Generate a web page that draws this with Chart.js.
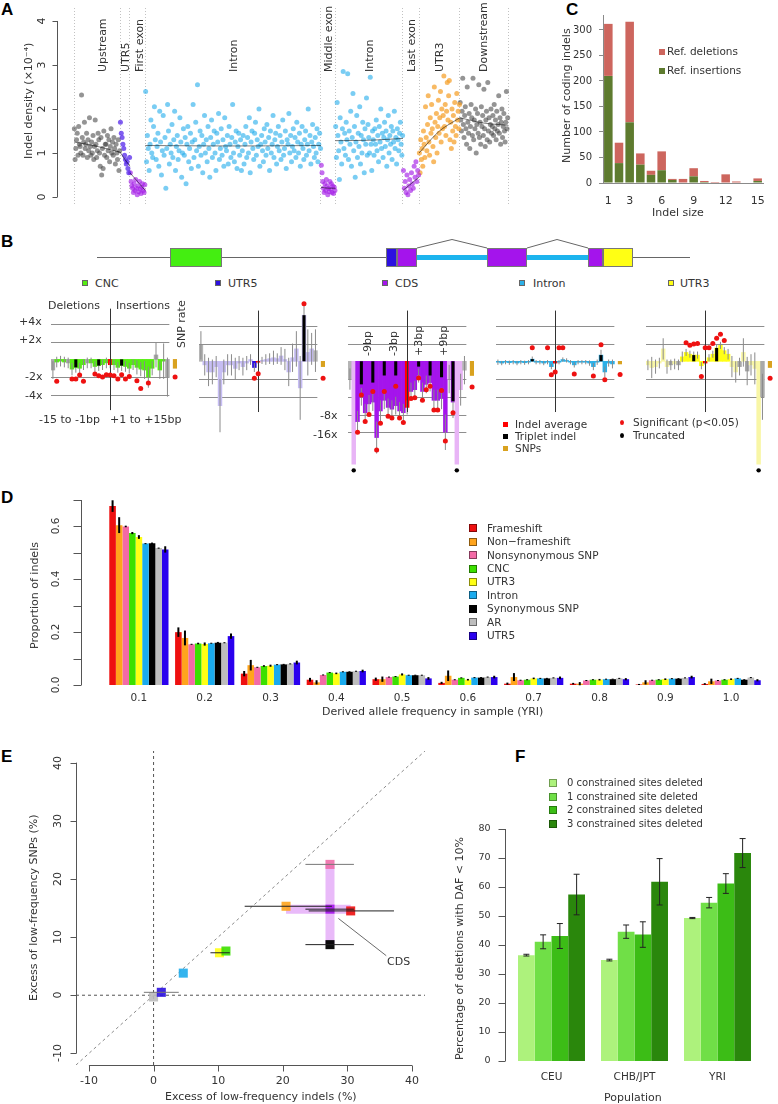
<!DOCTYPE html>
<html>
<head>
<meta charset="utf-8">
<title>Indel figure</title>
<script src="https://cdn.jsdelivr.net/npm/chart.js@4.4.1/dist/chart.umd.min.js"></script>
<style>
  body { margin: 0; background: #fff; }
  #fig { position: relative; width: 778px; height: 1104px; overflow: hidden; font-family: "DejaVu Sans", sans-serif; color: #333; }
  #fig canvas { position: absolute; }
  .t { position: absolute; white-space: nowrap; line-height: 1; }
  .sw { position: absolute; box-sizing: border-box; }
</style>
</head>
<body>
<div id="fig"></div>
<script>
// ---------- A: indel density along the gene model (x10^-4) ----------
const regionNames = ['Upstream', 'UTR5', 'First exon', 'Intron', 'Middle exon', 'Intron', 'Last exon', 'UTR3', 'Downstream'];
const regionBounds = [0, 10.6, 12.9, 16.4, 56.9, 60.2, 75.8, 79.5, 88.9, 100];
const upstreamDensity = [1.55,0.85,1.1,1.3,1.45,0.95,1.6,1.2,1.15,1.0,2.32,1.35,0.95,1.25,1.7,1.1,1.2,1.45,0.9,1.3,1.05,1.8,1.15,0.95,1.25,1.0,1.4,0.85,1.15,1.75,1.2,0.9,1.05,1.45,1.3,1.0,0.7,1.35,0.5,1.1,0.65,1.5,0.95,1.2,1.2,0.9,1.4,1.05,1.3,0.8,1.15,1.55,1.0,1.25,0.95,1.35,1.1,0.75,1.2,1.0,0.85,1.3,0.6,1.05];
const utr5Density = [1.7,1.45,1.35,1.2,1.1,0.95,0.85,0.75,0.8,0.65,0.55,0.9];
const firstExonDensity = [0.55,0.35,0.25,0.2,0.1,0.3,0.15,0.4,0.2,0.05,0.25,0.12,0.35,0.18,0.08,0.22,0.3,0.15,0.1,0.28];
const intron1Density = [2.4,0.8,1.4,1.1,0.6,1.2,1.75,1.0,0.9,1.6,2.05,1.3,0.85,1.15,1.45,0.7,1.95,1.25,0.5,1.05,1.85,0.95,1.35,0.2,1.1,2.1,1.5,0.75,1.2,1.0,1.65,0.9,1.3,1.95,0.6,1.15,1.4,0.85,1.05,1.8,1.25,0.45,1.0,1.55,0.95,1.35,0.3,1.2,1.6,0.8,1.1,1.45,0.65,1.25,2.1,0.9,1.3,1.7,1.05,2.55,0.7,1.15,1.5,0.95,1.4,0.55,1.2,1.85,1.0,1.3,0.8,1.6,1.1,0.45,1.35,1.75,0.9,1.2,1.5,1.0,0.6,1.45,1.25,1.9,0.85,1.1,1.55,0.95,1.3,0.7,1.8,1.15,1.05,1.4,0.75,1.6,1.2,0.9,1.35,2.1,1.0,0.8,1.25,1.5,0.65,1.15,1.45,0.95,1.3,0.6,1.05,1.4,0.75,1.2,1.6,0.9,1.35,1.0,1.8,0.55,1.25,1.5,1.1,0.85,1.45,1.7,0.95,1.3,1.15,2.0,0.7,1.2,1.4,1.05,0.8,1.55,1.25,0.95,1.65,1.1,1.35,0.6,1.5,1.0,1.2,1.85,0.9,1.3,1.45,0.75,1.15,1.6,1.05,1.4,0.85,1.25,1.75,0.95,1.1,1.5,0.65,1.3,1.2,1.9,1.0,1.4,0.8,1.15,1.55,1.05,1.35,0.9,1.7,1.25,1.0,1.45,0.7,1.2,1.6,1.1,0.85,1.3,1.5,0.95,1.2,2.0,1.05,1.4,0.75,1.25,1.65,1.15,0.9,1.35,1.0,1.55,0.8,1.2,1.45,1.1];
const middleExonDensity = [0.72,0.55,0.35,0.2,0.1,0.3,0.15,0.4,0.25,0.05,0.2,0.12,0.35,0.18,0.3,0.1,0.25,0.08,0.22,0.15];
const intron2Density = [1.6,0.9,2.15,1.4,1.05,0.4,1.8,1.25,0.75,1.55,2.85,1.1,1.45,0.95,1.7,1.3,2.8,0.85,1.5,1.2,1.95,0.7,1.35,2.35,1.05,1.6,0.45,1.25,1.85,0.9,1.45,1.15,2.05,0.75,1.4,1.0,1.7,1.3,0.55,1.55,1.2,2.25,0.95,1.65,1.35,1.0,2.72,1.2,0.6,1.5,1.3,0.95,1.55,1.2,1.75,1.05,1.4,0.8,1.6,1.25,2.0,1.1,1.45,0.9,1.35,1.7,1.15,1.5,0.7,1.3,1.85,1.0,1.4,1.2,1.6,0.85,1.5,1.25,1.95,1.1,1.35,0.75,1.55,1.3,1.05,1.45,1.7,1.2,0.95,1.4];
const lastExonDensity = [0.6,0.2,0.35,0.1,0.5,0.05,0.25,0.4,0.15,0.55,0.3,0.2,0.7,0.45,0.8,0.35,0.6,0.5];
const utr3Density = [1.0,0.55,1.3,0.85,1.1,0.7,1.5,1.2,0.9,2.05,1.35,1.05,1.65,2.3,1.25,0.95,1.8,1.45,2.1,1.55,1.15,0.8,2.5,1.7,1.35,1.9,1.0,1.6,2.2,1.45,1.8,2.4,1.25,2.0,1.55,1.85,2.75,1.6,2.1,1.4,1.95,2.6,1.75,2.3,2.65,1.3,1.7,1.1,2.0,1.5,1.85,1.25,2.15,1.6,1.4,2.35,1.75,1.95,1.55,2.1];
const downstreamDensity = [2.15,1.75,1.5,1.95,2.7,1.65,1.35,1.85,2.05,1.55,1.2,2.5,1.7,1.45,1.9,1.1,1.6,2.1,1.8,1.4,2.7,1.3,1.75,1.55,2.0,1.0,1.65,1.9,1.45,2.55,1.35,1.7,1.2,2.05,1.6,1.85,1.4,2.45,1.55,1.15,1.75,1.95,1.3,2.6,1.5,1.8,1.25,1.65,2.0,1.45,1.6,1.85,1.4,2.1,1.55,1.75,1.3,1.95,1.5,1.65,2.3,1.45,1.8,1.2,1.7,2.0,1.35,1.6,1.9,1.5,1.25,1.7,2.4,1.55,1.8];
// smoothed trend at start / middle / end of each region
const densityTrend = [[1.25,1.15,1.02],[1.02,0.85,0.7],[0.55,0.35,0.15],[1.17,1.16,1.17],[0.22,0.2,0.2],[1.28,1.29,1.33],[0.15,0.3,0.45],[1.0,1.5,1.8],[1.8,1.68,1.63]];
const densityTicks = [0, 1, 2, 3, 4];

// ---------- C: coding indel sizes ----------
const indelSizes = [1,2,3,4,5,6,7,8,9,10,11,12,13,14,15];
const refInsertions = [210,39,119,36,16,25,6,0,13,2,0,0,1,0,4];
const refDeletions = [102,40,197,22,8,37,2,8,16,2,2,17,2,0,5];
const sizeTickLabels = [1,3,6,9,12,15];
const countTicks = [0,50,100,150,200,250,300];

// ---------- B: indel rate by offset (log2 of rate ratio) ----------
const bpOffsets = [-15,-14,-13,-12,-11,-10,-9,-8,-7,-6,-5,-4,-3,-2,-1,0,1,2,3,4,5,6,7,8,9,10,11,12,13,14,15];
const logRateTicks = [2, 1, -1, -2, -3, -4];
const logRateLabels = ['+4x', '+2x', '-2x', '-4x', '-8x', '-16x'];
const cncRate = [-0.6,-0.15,-0.1,-0.15,-0.2,-0.55,-0.45,-0.5,-0.3,-0.2,-0.2,-0.4,-0.35,-0.3,-0.2,-0.3,-0.3,-0.45,-0.35,-0.4,-0.5,-0.3,-0.45,-0.55,-0.6,-1.0,-0.5,0.25,-0.6,-0.1,-1.0];
const cncErr = [0.5,0.3,0.3,0.3,0.3,0.35,0.3,0.3,0.3,0.3,0.3,0.3,0.3,0.3,0.3,0.2,0.3,0.3,0.3,0.3,0.3,0.3,0.4,0.4,0.5,0.6,0.4,0.7,0.5,1.0,1.1];
const cncTriplet = [[-9,-0.45],[-3,-0.35],[3,-0.35]];
const cncSignif = [[-14,-1.23],[-10,-1.1],[-9,-1.1],[-8,-0.88],[-7,-1.23],[-4,-0.83],[-3,-0.92],[-2,-1.0],[-1,-0.87],[0,-0.88],[1,-0.92],[2,-1.1],[3,-0.87],[4,-1.1],[5,-0.97],[7,-1.2],[8,-1.64],[10,-1.33]];
const cncSnp = [-0.5, -1.0];
const utr5Rate = [0.9,-0.2,-0.6,-0.6,-0.3,-2.5,-0.6,-0.2,-0.2,-0.4,-0.1,-0.3,-0.1,0.1,-0.35,-0.05,0.05,0.1,0.15,0.2,0.15,0.3,0.1,-0.6,0.2,0.7,-1.5,2.6,0.5,0.7,0.6];
const utr5Err = [0.8,0.6,0.8,0.7,0.6,1.5,0.7,0.6,0.6,0.6,0.4,0.5,0.4,0.3,0.25,0.1,0.2,0.3,0.3,0.4,0.3,0.5,0.6,0.8,0.8,1.0,1.8,0.6,1.3,0.9,1.2];
const utr5Triplet = [[12,2.6]];
const utr5Signif = [[-1,-0.95],[0,-0.7],[12,3.25]];
const utr5Snp = [-0.3, -0.95];
const cdsRate = [-1.0,-5.8,-3.4,-2.0,-2.9,-2.4,-2.3,-4.3,-2.8,-2.2,-2.6,-2.7,-2.5,-2.8,-2.9,-2.6,-1.7,-1.6,-0.8,-1.7,-1.3,-1.2,-2.2,-2.2,-2.1,-4.0,-1.0,-2.3,-5.8,-1.6,-0.5];
const cdsErr = [0.6,0,0.6,0.5,0.5,0.5,0.5,0.9,0.6,0.5,0.5,0.5,0.5,0.5,0.5,0.4,0.5,0.5,0.4,0.5,0.5,0.5,0.6,0.6,0.6,1.0,0.8,0.9,0,0.9,0.8];
const cdsTriplet = [[-12,-1.3],[-9,-1.2],[-6,-0.8],[-3,-0.8],[3,-0.3],[6,-0.8],[9,-0.9],[12,-2.25]];
const cdsSignif = [[-13,-4.0],[-12,-1.9],[-11,-3.4],[-10,-3.0],[-9,-1.7],[-8,-5.0],[-7,-3.5],[-6,-1.7],[-5,-3.1],[-4,-3.2],[-3,-1.4],[-2,-3.2],[-1,-3.45],[1,-2.1],[2,-2.05],[3,-0.94],[4,-2.2],[5,-1.6],[6,-1.4],[7,-2.75],[8,-2.75],[9,-1.65],[10,-4.5],[12,-2.9]];
const cdsSnp = [-0.8, -1.45];
const cdsTruncated = [-14, 13];
const intronRate = [-0.05,-0.1,-0.05,-0.08,-0.05,-0.1,-0.05,-0.08,-0.05,0.12,-0.05,-0.05,-0.1,-0.05,-0.3,-0.1,-0.05,0.1,0.05,-0.05,-0.2,-0.05,-0.05,-0.05,-0.1,-0.3,-0.05,0.35,-0.6,-0.1,-0.15];
const intronErr = [0.15,0.12,0.12,0.12,0.12,0.12,0.12,0.12,0.12,0.15,0.12,0.12,0.12,0.12,0.15,0.05,0.12,0.12,0.12,0.12,0.15,0.12,0.12,0.12,0.15,0.2,0.15,0.3,0.3,0.2,0.25];
const intronTriplet = [[-6,0.12],[12,0.35]];
const intronSignif = [[-6,0.76],[-2,0.76],[1,0.76],[2,0.76],[-1,-0.76],[0,-0.6],[5,-0.72],[10,-0.83],[12,0.94],[13,-1.04]];
const intronSnp = [-0.15, -0.75];
const utr3Rate = [-0.2,-0.35,-0.3,-0.1,0.7,-0.3,-0.2,-0.15,-0.2,0.25,0.5,0.4,0.35,0.35,-0.25,-0.1,0.2,0.4,0.75,0.9,0.6,0.4,-0.3,-0.6,-0.3,0.5,-0.55,-0.2,-0.4,-5.8,-2.0];
const utr3Err = [0.3,0.6,0.4,0.3,0.6,0.4,0.3,0.3,0.3,0.3,0.2,0.2,0.2,0.2,0.2,0.1,0.2,0.2,0.2,0.2,0.2,0.3,0.6,0.6,0.5,0.8,0.8,0.6,0.9,0,1.3];
const utr3Triplet = [[-3,0.35],[3,0.75]];
const utr3Signif = [[-5,1.04],[-4,0.9],[-3,0.97],[-2,1.0],[-1,-0.85],[0,0.76],[1,0.76],[2,1.0],[3,1.3],[4,1.53],[5,1.17]];
const utr3Snp = [-0.35, -0.95];
const utr3Truncated = [14];

// ---------- D: derived allele frequency spectrum ----------
const dafBins = ['0.1','0.2','0.3','0.4','0.5','0.6','0.7','0.8','0.9','1.0'];
const indelClasses = ['Frameshift','Non\u2212frameshift','Nonsynonymous SNP','CNC','UTR3','Intron','Synonymous SNP','AR','UTR5'];
const frameshiftProp = [0.677,0.200,0.043,0.020,0.022,0.008,0.005,0.005,0.002,0.004];
const nonFrameshiftProp = [0.605,0.178,0.075,0.010,0.022,0.035,0.030,0.005,0.010,0.014];
const nonsynProp = [0.600,0.154,0.067,0.038,0.030,0.020,0.018,0.017,0.018,0.017];
const cncProp = [0.575,0.157,0.072,0.047,0.032,0.027,0.020,0.020,0.020,0.020];
const utr3Prop = [0.560,0.155,0.073,0.044,0.040,0.020,0.025,0.020,0.022,0.022];
const intronProp = [0.535,0.158,0.077,0.050,0.037,0.028,0.025,0.022,0.024,0.025];
const synProp = [0.536,0.160,0.078,0.050,0.037,0.028,0.025,0.022,0.024,0.020];
const arProp = [0.518,0.160,0.080,0.052,0.037,0.030,0.027,0.025,0.027,0.028];
const utr5Prop = [0.513,0.185,0.085,0.053,0.025,0.030,0.027,0.022,0.030,0.018];
const frameshiftSe = [0.022,0.018,0.010,0.007,0.006,0.004,0.004,0.003,0.002,0.003];
const nonFrameshiftSe = [0.030,0.028,0.020,0.008,0.010,0.020,0.015,0.006,0.008,0.010];
const nonsynSe = [0.003,0.002,0.002,0.002,0.002,0.002,0.002,0.002,0.002,0.002];
const cncSe = [0.004,0.003,0.003,0.002,0.002,0.002,0.002,0.002,0.002,0.002];
const utr3Se = [0.007,0.006,0.004,0.003,0.004,0.003,0.003,0.003,0.003,0.003];
const intronSe = [0.002,0.002,0.002,0.002,0.002,0.002,0.002,0.002,0.002,0.002];
const synSe = [0.003,0.003,0.002,0.002,0.002,0.002,0.002,0.002,0.002,0.002];
const arSe = [0.002,0.002,0.002,0.002,0.002,0.002,0.002,0.002,0.002,0.002];
const utr5Se = [0.012,0.010,0.007,0.005,0.005,0.005,0.005,0.004,0.005,0.004];
const propTicks = [0,0.1,0.2,0.3,0.4,0.5,0.6,0.7];

// ---------- E: excess of low-frequency variants (%) ----------
const excessClasses = ['AR','UTR5','Intron','UTR3','CNC','Non-frameshift','Frameshift','CDS','Nonsynonymous SNP','Synonymous SNP'];
const indelExcess = [0, 1.2, 4.6, 10.2, 11.2, 20.5, 30.5, 27.3, 27.3, 27.3];
const snpExcess = [-0.3, 0.5, 3.8, 7.3, 7.6, 15.3, 14.5, 14.8, 22.5, 8.7];
const indelExcessLo = [null, -1.5, null, 8.8, null, 14.1, 24.0, 23.5, 23.5, 23.5];
const indelExcessHi = [null, 3.9, null, 11.8, null, 27.6, 37.2, 31.0, 31.0, 31.0];
const excessTicks = [-10, 0, 10, 20, 30, 40];

// ---------- F: deletions with DAF < 10% ----------
const populations = ['CEU', 'CHB/JPT', 'YRI'];
const constrainedLabels = ['0 constrained sites deleted','1 constrained site deleted','2 constrained sites deleted','3 constrained sites deleted'];
const pct0 = [36.5, 34.8, 49.3], pct0Err = [0.3, 0.3, 0.2];
const pct1 = [41.1, 44.6, 54.6], pct1Err = [2.4, 2.3, 1.8];
const pct2 = [43.1, 43.6, 61.2], pct2Err = [4.3, 4.4, 3.4];
const pct3 = [57.4, 61.8, 71.7], pct3Err = [7.0, 8.0, 5.0];
const pctTicks = [0,10,20,30,40,50,60,70,80];

// ================= drawing =================
Chart.defaults.font.family = '"DejaVu Sans", sans-serif';
Chart.defaults.font.size = 11;
Chart.defaults.color = '#333';
Chart.defaults.animation = false;
Chart.defaults.responsive = false;
Chart.defaults.plugins.legend.display = false;
Chart.defaults.plugins.tooltip.enabled = false;

const fig = document.getElementById('fig');

function makeCanvas(x, y, w, h) {
  const c = document.createElement('canvas');
  c.width = w; c.height = h;
  c.style.left = x + 'px'; c.style.top = y + 'px';
  c.style.width = w + 'px'; c.style.height = h + 'px';
  fig.appendChild(c);
  return c;
}

// text placed on whole pixels; rot 'center' = centred, rot 'up' = starts at y and reads upwards
function addText(str, x, y, o = {}) {
  const d = document.createElement('div');
  d.className = 't';
  d.textContent = str;
  d.style.fontSize = (o.size || 11) + 'px';
  if (o.color) d.style.color = o.color;
  if (o.bold) d.style.fontWeight = 'bold';
  if (o.family) d.style.fontFamily = o.family;
  fig.appendChild(d);
  const w = d.offsetWidth, h = d.offsetHeight;
  if (o.rot) {
    d.style.transformOrigin = '0 0';
    d.style.transform = 'rotate(-90deg)';
    d.style.left = Math.round(x - h / 2) + 'px';
    d.style.top = Math.round(o.rot === 'center' ? y + w / 2 : y) + 'px';
  } else {
    const ax = o.align === 'center' ? w / 2 : o.align === 'right' ? w : 0;
    d.style.left = Math.round(x - ax) + 'px';
    d.style.top = Math.round(y - h / 2) + 'px';
  }
  return d;
}

function swatch(cx, cy, size, color, o = {}) {
  const d = document.createElement('div');
  d.className = 'sw';
  const w = o.w || size;
  d.style.left = (cx - w / 2) + 'px'; d.style.top = (cy - size / 2) + 'px';
  d.style.width = w + 'px'; d.style.height = size + 'px';
  d.style.background = color;
  if (o.border) d.style.border = o.border;
  if (o.round) d.style.borderRadius = '50%';
  fig.appendChild(d);
}

// fix the chart area inside a canvas (canvas-relative l, t, r, b)
function area(cw, ch, l, t, r, b) {
  const zero = s => { s.paddingLeft = s.paddingRight = s.paddingTop = s.paddingBottom = 0; };
  return {
    padding: { left: 0, top: t, right: cw - r, bottom: 0 },
    x: s => { s.height = ch - b; zero(s); },
    y: s => { s.width = l; zero(s); }
  };
}
const bare = fit => ({ afterFit: fit, ticks: { display: false }, grid: { display: false, drawTicks: false }, border: { display: false } });

// R style axes: line from first to last tick, tick marks, labels
function rAxis(axes) {
  return {
    id: 'rAxis',
    afterDraw(chart) {
      const { ctx, chartArea: ca } = chart;
      axes.forEach(a => {
        const sc = chart.scales[a.id];
        const px = a.values.map(v => sc.getPixelForValue(v));
        const len = a.len || 0, off = a.offset || 0, gap = a.gap == null ? 3 : a.gap;
        ctx.save();
        ctx.strokeStyle = a.color || '#555'; ctx.lineWidth = 1;
        ctx.fillStyle = '#333';
        ctx.font = (a.size || 11) + 'px "DejaVu Sans", sans-serif';
        ctx.beginPath();
        if (sc.isHorizontal()) {
          const y = Math.round(ca.bottom + off) + 0.5;
          if (a.line !== false) { ctx.moveTo(Math.min(...px), y); ctx.lineTo(Math.max(...px), y); }
          if (len) px.forEach(p => { const x = Math.round(p) + 0.5; ctx.moveTo(x, y); ctx.lineTo(x, y + len); });
          ctx.stroke();
          ctx.textAlign = 'center'; ctx.textBaseline = 'top';
          a.values.forEach((v, i) => { const t = a.fmt ? a.fmt(v, i) : String(v); if (t) ctx.fillText(t, px[i], y + len + gap); });
        } else {
          const x = Math.round(ca.left - off) + 0.5;
          if (a.line !== false) { ctx.moveTo(x, Math.min(...px)); ctx.lineTo(x, Math.max(...px)); }
          if (len) px.forEach(p => { const y = Math.round(p) + 0.5; ctx.moveTo(x, y); ctx.lineTo(x - len, y); });
          ctx.stroke();
          a.values.forEach((v, i) => {
            const t = a.fmt ? a.fmt(v, i) : String(v);
            if (!t) return;
            if (a.rotate) {
              ctx.save(); ctx.translate(Math.round(x - len - gap), Math.round(px[i])); ctx.rotate(-Math.PI / 2);
              ctx.textAlign = 'center'; ctx.textBaseline = 'bottom'; ctx.fillText(t, 0, 0); ctx.restore();
            } else {
              ctx.textAlign = 'right'; ctx.textBaseline = 'middle'; ctx.fillText(t, x - len - gap, px[i]);
            }
          });
        }
        ctx.restore();
      });
    }
  };
}

// error bars read from dataset.err (vertical) and dataset.xerr (horizontal)
const errBars = {
  id: 'errBars',
  afterDatasetDraw(chart, args) {
    const ds = chart.data.datasets[args.index];
    if (!ds.err && !ds.xerr) return;
    const ctx = chart.ctx, xs = chart.scales.x, ys = chart.scales.y;
    ctx.save();
    ctx.lineWidth = ds.errWidth || 1;
    args.meta.data.forEach((el, i) => {
      const raw = ds.data[i];
      if (raw == null) return;
      const v = typeof raw === 'object' ? raw.y : raw;
      if (ds.err && ds.err[i]) {
        const e = ds.err[i];
        const y1 = ys.getPixelForValue(v - e), y2 = ys.getPixelForValue(v + e);
        ctx.strokeStyle = ds.errColor || '#000';
        ctx.beginPath(); ctx.moveTo(el.x, y1); ctx.lineTo(el.x, y2);
        if (ds.errCap) {
          ctx.moveTo(el.x - ds.errCap, y1); ctx.lineTo(el.x + ds.errCap, y1);
          ctx.moveTo(el.x - ds.errCap, y2); ctx.lineTo(el.x + ds.errCap, y2);
        }
        ctx.stroke();
      }
      if (ds.xerr && ds.xerr[i]) {
        ctx.strokeStyle = (ds.xerrColor && ds.xerrColor[i]) || '#000';
        ctx.beginPath();
        ctx.moveTo(xs.getPixelForValue(ds.xerr[i][0]), el.y);
        ctx.lineTo(xs.getPixelForValue(ds.xerr[i][1]), el.y);
        ctx.stroke();
      }
    });
    ctx.restore();
  }
};

// ---------- panel letters ----------
const letterFont = { size: 17, bold: true, family: '"Liberation Sans", Arial, sans-serif', color: '#000' };
addText('A', 1, 9, letterFont);
addText('B', 1, 241, letterFont);
addText('C', 566, 9, letterFont);
addText('D', 1, 497, letterFont);
addText('E', 1, 756, letterFont);
addText('F', 515, 756, letterFont);

// ---------- A ----------
const regionColors = ['rgba(60,60,60,0.55)','rgba(85,40,235,0.75)','rgba(165,30,230,0.65)','rgba(40,175,235,0.62)','rgba(165,30,230,0.65)','rgba(40,175,235,0.62)','rgba(165,30,230,0.65)','rgba(245,160,40,0.72)','rgba(60,60,60,0.55)'];
const regionDensity = [upstreamDensity, utr5Density, firstExonDensity, intron1Density, middleExonDensity, intron2Density, lastExonDensity, utr3Density, downstreamDensity];
const aTrend = densityTrend.map((t, r) => {
  const b0 = regionBounds[r], b1 = regionBounds[r + 1];
  return { data: [{ x: b0, y: t[0] }, { x: (b0 + b1) / 2, y: t[1] }, { x: b1, y: t[2] }], showLine: true, borderColor: 'rgba(0,0,0,0.65)', borderWidth: 0.8, pointRadius: 0, tension: 0.3 };
});
const aPoints = regionDensity.map((vals, r) => {
  const b0 = regionBounds[r], b1 = regionBounds[r + 1];
  return { data: vals.map((v, i) => ({ x: b0 + (i + 0.5) * (b1 - b0) / vals.length, y: v })), pointRadius: 2.5, pointBorderWidth: 0, pointBackgroundColor: regionColors[r] };
});
const aFit = area(520, 230, 57, 8, 515, 205);
const aChart = new Chart(makeCanvas(0, 0, 520, 230), {
  type: 'scatter',
  data: { datasets: aTrend.concat(aPoints) },
  options: {
    events: [], layout: { padding: aFit.padding },
    scales: {
      x: { type: 'linear', min: -3.92, max: 101.61, afterFit: aFit.x,
           afterBuildTicks: s => { s.ticks = regionBounds.map(v => ({ value: v })); },
           ticks: { display: false }, grid: { display: true, drawTicks: false, color: '#c2c2c2', lineWidth: 1 },
           border: { display: false, dash: [1, 2] } },
      y: Object.assign(bare(aFit.y), { min: -0.182, max: 4.295 })
    }
  },
  plugins: [rAxis([{ id: 'y', values: densityTicks, len: 5, gap: 5, rotate: true, size: 11 }])]
});
regionNames.forEach((n, r) => {
  const x = aChart.scales.x.getPixelForValue((regionBounds[r] + regionBounds[r + 1]) / 2);
  addText(n, x + (r === 0 ? 5 : r === 2 ? 2 : 0), 72, { rot: 'up', size: 11 });
});
addText('Indel density (\u00d710\u207b\u2074)', 28, 101, { rot: 'center', size: 11 });

// ---------- C ----------
const cFit = area(218, 230, 43, 15, 203, 183);
new Chart(makeCanvas(560, 0, 218, 230), {
  type: 'bar',
  data: { labels: indelSizes, datasets: [
    { data: refInsertions, backgroundColor: '#5e7b2f' },
    { data: refDeletions, backgroundColor: '#cd665e' }
  ] },
  options: {
    events: [], layout: { padding: cFit.padding },
    datasets: { bar: { barPercentage: 0.8, categoryPercentage: 1 } },
    scales: {
      x: { stacked: true, afterFit: cFit.x, grid: { display: false, drawTicks: false }, border: { display: true, color: '#8a8a8a' },
           ticks: { autoSkip: false, maxRotation: 0, padding: 12, font: { size: 11 },
                    callback: (v, i) => sizeTickLabels.includes(indelSizes[i]) ? String(indelSizes[i]) : '' } },
      y: { stacked: true, min: 0, max: 329.4, afterFit: cFit.y,
           afterBuildTicks: s => { s.ticks = countTicks.map(v => ({ value: v })); },
           grid: { drawOnChartArea: false, drawTicks: true, tickLength: 4, color: '#8a8a8a' },
           border: { display: true, color: '#8a8a8a' }, ticks: { padding: 7, font: { size: 10 } } }
    }
  }
});
swatch(661.5, 51.7, 6, '#cd665e');
addText('Ref. deletions', 667, 51.7, { size: 10.5 });
swatch(661.5, 70.7, 6, '#5e7b2f');
addText('Ref. insertions', 667, 70.7, { size: 10.5 });
addText('Number of coding indels', 566, 95, { rot: 'center', size: 11 });
addText('Indel size', 678, 212, { align: 'center', size: 11 });

// ---------- B: gene model ----------
const g = makeCanvas(0, 235, 778, 40).getContext('2d');
g.strokeStyle = '#666'; g.lineWidth = 1;
g.beginPath(); g.moveTo(97, 22.5); g.lineTo(690, 22.5);
g.moveTo(417, 13); g.lineTo(452, 4.5); g.lineTo(487, 13);
g.moveTo(527, 13); g.lineTo(557, 4.5); g.lineTo(588, 13);
g.stroke();
g.fillStyle = '#1cb4ee'; g.fillRect(417, 20, 70, 5); g.fillRect(527, 20, 61, 5);
[[170, 222, '#44ee11'], [386, 397, '#2c10e0'], [397, 417, '#a414ec'], [487, 527, '#a414ec'], [588, 603, '#a414ec'], [603, 633, '#ffff14']].forEach(b => {
  g.fillStyle = b[2]; g.fillRect(b[0], 13, b[1] - b[0], 19);
  g.strokeStyle = '#777'; g.strokeRect(b[0] + 0.5, 13.5, b[1] - b[0] - 1, 18);
});
const bLegend = [['CNC', 84.5, 95, '#55ee11'], ['UTR5', 218, 228, '#2c10e0'], ['CDS', 384.5, 395, '#a414ec'], ['Intron', 522, 533, '#2bb0e8'], ['UTR3', 671, 680, '#ffff14']];
bLegend.forEach(l => { swatch(l[1], 283, 6, l[3], { border: '1px solid #666' }); addText(l[0], l[2], 283, { size: 11 }); });

// ---------- B: offset charts ----------
const W_BP = 4.06, U_LOG = 18.5, CENTER_SPAN = 2.86, TRUNC_MARK = -6.15;
const tones = {
  cnc: p => [-15, -11, -6, 12, 15].includes(p) ? '#a9a9a9' : '#55ee11',
  utr5: p => p === -1 ? '#2c10e0' : (p === -15 || p === 15) ? '#b5b5b5' : '#c6bdf3',
  cds: p => (p === -15 || p === 15) ? '#b5b5b5' : [-14, 11, 13, 14].includes(p) ? '#e8b4f6' : '#a414ec',
  intron: () => '#2bb0e8',
  utr3: p => [-9, -7, 9, 11, 15].includes(p) ? '#a9a9a9' : Math.abs(p) <= 6 ? '#ffff14' : '#f8f6a6'
};
function miniDeco(cfg) {
  return {
    id: 'miniDeco',
    beforeDatasetsDraw(chart) {
      const { ctx } = chart, xs = chart.scales.x, ys = chart.scales.y;
      const half = (xs.getPixelForValue(1) - xs.getPixelForValue(0)) / 2;
      const x1 = xs.getPixelForValue(0) - half, x2 = xs.getPixelForValue(30) + half;
      ctx.save(); ctx.strokeStyle = '#8e8e8e'; ctx.lineWidth = 1; ctx.beginPath();
      cfg.grid.forEach(v => { const y = Math.round(ys.getPixelForValue(v)) + 0.5; ctx.moveTo(x1, y); ctx.lineTo(x2, y); });
      ctx.stroke(); ctx.restore();
    },
    afterDatasetDraw(chart, args) {
      if (args.index !== 1) return;
      const { ctx } = chart, xs = chart.scales.x, ys = chart.scales.y;
      const x = Math.round(xs.getPixelForValue(15)) + 0.5;
      ctx.save(); ctx.strokeStyle = '#333'; ctx.lineWidth = 1; ctx.beginPath();
      ctx.moveTo(x, ys.getPixelForValue(CENTER_SPAN)); ctx.lineTo(x, ys.getPixelForValue(-CENTER_SPAN));
      ctx.stroke(); ctx.restore();
    }
  };
}
function miniChart(cfg) {
  const left = cfg.center - 15.5 * W_BP, right = cfg.center + 17.5 * W_BP;
  const top = 295, bottom = 488;
  const cx = Math.round(left), cw = Math.round(right - left);
  const labels = bpOffsets.concat([16, 17]);
  const pick = (pairs, p) => { const q = pairs.find(d => d[0] === p); return q ? q[1] : null; };
  const trunc = cfg.trunc || [];
  new Chart(makeCanvas(cx, top, cw, bottom - top), {
    type: 'bar',
    data: { labels, datasets: [
      { data: cfg.rate.concat([null, cfg.snp[0]]), err: cfg.err.concat([null, null]), errColor: '#8a8a8a', errWidth: 1,
        backgroundColor: labels.map(p => p === 17 ? '#d9a21f' : p === 0 ? '#ff0000' : cfg.tone(p)),
        grouped: false, barPercentage: 1, categoryPercentage: 1, order: 3 },
      { data: labels.map(p => pick(cfg.triplet, p)), backgroundColor: '#000', grouped: false, barPercentage: 0.8, categoryPercentage: 1, order: 2 },
      { type: 'line', data: labels.map(p => p === 17 ? cfg.snp[1] : pick(cfg.sig, p)), showLine: false,
        pointRadius: 2.5, pointBorderWidth: 0, pointBackgroundColor: '#ee1111', order: 1 },
      { type: 'line', data: labels.map(p => trunc.includes(p) ? TRUNC_MARK : null), showLine: false,
        pointRadius: 2.2, pointBorderWidth: 0, pointBackgroundColor: '#000', order: 0 }
    ] },
    options: {
      events: [], layout: { padding: 0 },
      scales: {
        x: { display: false },
        y: { display: false, min: -(bottom - cfg.zeroY) / U_LOG, max: (cfg.zeroY - top) / U_LOG }
      }
    },
    plugins: [errBars, miniDeco(cfg)]
  });
}
const grid4 = logRateTicks.slice(0, 4), grid6 = logRateTicks;
miniChart({ center: 110, zeroY: 358, rate: cncRate, err: cncErr, triplet: cncTriplet, sig: cncSignif, snp: cncSnp, tone: tones.cnc, grid: grid4 });
miniChart({ center: 258, zeroY: 360, rate: utr5Rate, err: utr5Err, triplet: utr5Triplet, sig: utr5Signif, snp: utr5Snp, tone: tones.utr5, grid: grid4 });
miniChart({ center: 407, zeroY: 360, rate: cdsRate, err: cdsErr, triplet: cdsTriplet, sig: cdsSignif, snp: cdsSnp, trunc: cdsTruncated, tone: tones.cds, grid: grid6 });
miniChart({ center: 555, zeroY: 360, rate: intronRate, err: intronErr, triplet: intronTriplet, sig: intronSignif, snp: intronSnp, tone: tones.intron, grid: grid4 });
miniChart({ center: 705, zeroY: 360, rate: utr3Rate, err: utr3Err, triplet: utr3Triplet, sig: utr3Signif, snp: utr3Snp, trunc: utr3Truncated, tone: tones.utr3, grid: grid4 });

logRateTicks.slice(0, 4).forEach((v, i) => addText(logRateLabels[i], 42, 358 - v * U_LOG, { align: 'right', size: 11 }));
logRateTicks.slice(4).forEach((v, i) => addText(logRateLabels[4 + i], 337, 360 - v * U_LOG, { align: 'right', size: 11 }));
addText('Deletions', 48, 305, { size: 11 });
addText('Insertions', 115.5, 305, { size: 11 });
addText('-15 to -1bp', 39, 419, { size: 11 });
addText('+1 to +15bp', 110, 419, { size: 11 });
addText('SNP rate', 181, 323.5, { rot: 'center', size: 11 });
[['-9bp', 367], ['-3bp', 393], ['+3bp', 418.5], ['+9bp', 443.5]].forEach(l => addText(l[0], l[1], 356, { rot: 'up', size: 11 }));
swatch(505, 424, 5, '#ff0000'); addText('Indel average', 515, 424, { size: 10.5 });
swatch(505, 436, 5, '#000000'); addText('Triplet indel', 515, 436, { size: 10.5 });
swatch(505, 448, 5, '#d9a21f'); addText('SNPs', 515, 448, { size: 10.5 });
swatch(622, 422.7, 5, '#ee1111', { w: 4, round: true }); addText('Significant (p<0.05)', 632.7, 422.5, { size: 10.5 });
swatch(622, 435, 5, '#000000', { w: 4, round: true }); addText('Truncated', 632.7, 435, { size: 10.5 });

// ---------- D ----------
const classColors = ['#ee1010', '#ffa41c', '#f36aa6', '#3ce000', '#ffff14', '#1aabee', '#000000', '#bdbdbd', '#2a00ee'];
const dafProps = [frameshiftProp, nonFrameshiftProp, nonsynProp, cncProp, utr3Prop, intronProp, synProp, arProp, utr5Prop];
const dafSes = [frameshiftSe, nonFrameshiftSe, nonsynSe, cncSe, utr3Se, intronSe, synSe, arSe, utr5Se];
const dFit = area(778, 230, 106, 5, 764, 195);
new Chart(makeCanvas(0, 490, 778, 230), {
  type: 'bar',
  data: { labels: dafBins, datasets: dafProps.map((p, k) => ({ data: p, err: dafSes[k], errColor: '#000', errWidth: 2, backgroundColor: classColors[k] })) },
  options: {
    events: [], layout: { padding: dFit.padding },
    datasets: { bar: { categoryPercentage: 0.9, barPercentage: 1 } },
    scales: { x: bare(dFit.x), y: Object.assign(bare(dFit.y), { min: 0, max: 0.719 }) }
  },
  plugins: [errBars, rAxis([
    { id: 'y', values: propTicks, offset: 25, len: 8, gap: 12, rotate: true, size: 10.5, fmt: v => Math.round(v * 10) % 2 === 0 ? v.toFixed(1) : '' },
    { id: 'x', values: dafBins.map((b, i) => i), line: false, len: 0, gap: 8, size: 10.5, fmt: (v, i) => dafBins[i] }
  ])]
});
indelClasses.forEach((n, k) => {
  const y = 528.3 + k * 13.42;
  swatch(473, y, 8, classColors[k], { border: '1px solid rgba(0,0,0,0.45)' });
  addText(n, 487.3, y, { size: 10.5 });
});
addText('Derived allele frequency in sample (YRI)', 432, 711, { align: 'center', size: 11 });
addText('Proportion of indels', 34, 595.5, { rot: 'center', size: 11 });

// ---------- E ----------
const excessColors = ['rgba(187,187,187,0.9)', 'rgba(42,16,224,0.9)', 'rgba(30,172,236,0.9)', 'rgba(255,255,20,0.9)', 'rgba(60,224,0,0.9)', 'rgba(255,164,28,0.9)', 'rgba(238,16,16,0.9)', 'rgba(164,20,236,0.9)', 'rgba(240,110,170,0.9)', 'rgba(0,0,0,0.95)'];
const excessErrColors = [null, '#777', null, '#222', null, '#222', '#222', '#222', '#777', '#222'];
const iCds = excessClasses.indexOf('CDS'), iNs = excessClasses.indexOf('Nonsynonymous SNP'), iSyn = excessClasses.indexOf('Synonymous SNP');
const iNf = excessClasses.indexOf('Non-frameshift'), iFs = excessClasses.indexOf('Frameshift');
const eLim = [-12, 42];
const bandStyle = { showLine: true, borderColor: 'rgba(224,160,246,0.72)', borderWidth: 9, borderCapStyle: 'butt', pointRadius: 0, order: 5 };
const refLine = (data, color) => ({ data, showLine: true, borderColor: color, borderWidth: 1, borderDash: [3, 3], pointRadius: 0, order: 6 });
const eFit = area(440, 364, 76, 11, 425, 325);
new Chart(makeCanvas(0, 740, 440, 364), {
  type: 'scatter',
  data: { datasets: [
    refLine([{ x: 0, y: eLim[0] }, { x: 0, y: eLim[1] }], '#555'),
    refLine([{ x: eLim[0], y: 0 }, { x: eLim[1], y: 0 }], '#555'),
    refLine([{ x: eLim[0], y: eLim[0] }, { x: eLim[1], y: eLim[1] }], '#8a8a8a'),
    Object.assign({ data: [{ x: indelExcess[iCds], y: snpExcess[iSyn] }, { x: indelExcess[iCds], y: snpExcess[iNs] }] }, bandStyle),
    Object.assign({ data: [{ x: indelExcess[iNf], y: snpExcess[iCds] }, { x: indelExcess[iFs], y: snpExcess[iCds] }] }, bandStyle),
    { data: [{ x: indelExcess[iCds] + 1.3, y: snpExcess[iCds] - 1.6 }, { x: 36.0, y: 6.8 }], showLine: true, borderColor: '#444', borderWidth: 0.8, pointRadius: 0, order: 4 },
    { data: excessClasses.map((c, i) => ({ x: indelExcess[i], y: snpExcess[i] })), pointStyle: 'rect', pointRadius: 6.4, pointBorderWidth: 0,
      pointBackgroundColor: excessColors, xerr: excessClasses.map((c, i) => indelExcessLo[i] == null ? null : [indelExcessLo[i], indelExcessHi[i]]),
      xerrColor: excessErrColors, errWidth: 1, order: 0 }
  ] },
  options: {
    events: [], layout: { padding: eFit.padding },
    scales: {
      x: Object.assign(bare(eFit.x), { type: 'linear', min: eLim[0], max: eLim[1] }),
      y: Object.assign(bare(eFit.y), { min: eLim[0], max: eLim[1] })
    }
  },
  plugins: [errBars, rAxis([
    { id: 'y', values: excessTicks, len: 6, gap: 7, rotate: true, size: 11 },
    { id: 'x', values: excessTicks, len: 6, gap: 4, size: 11 }
  ])]
});
addText('CDS', 398, 961, { align: 'center', size: 11 });
addText('Excess of low-frequency indels (%)', 261, 1096, { align: 'center', size: 11 });
addText('Excess of low-frequency SNPs (%)', 33, 908, { rot: 'center', size: 11 });

// ---------- F ----------
const siteColors = ['#adf27c', '#70df47', '#3cbd16', '#2a870c'];
const pcts = [pct0, pct1, pct2, pct3], pctErrs = [pct0Err, pct1Err, pct2Err, pct3Err];
const fFit = area(338, 284, 70, 9, 319, 241);
new Chart(makeCanvas(440, 820, 338, 284), {
  type: 'bar',
  data: { labels: populations, datasets: pcts.map((p, k) => ({ data: p, err: pctErrs[k], errColor: '#222', errWidth: 1, errCap: 3, backgroundColor: siteColors[k] })) },
  options: {
    events: [], layout: { padding: fFit.padding },
    datasets: { bar: { categoryPercentage: 0.807, barPercentage: 1 } },
    scales: { x: bare(fFit.x), y: Object.assign(bare(fFit.y), { min: 0, max: 80 }) }
  },
  plugins: [errBars, rAxis([
    { id: 'y', values: pctTicks, offset: 5, len: 7, gap: 8, size: 9.5 },
    { id: 'x', values: populations.map((p, i) => i), line: false, len: 0, gap: 11, size: 10.5, fmt: (v, i) => populations[i] }
  ])]
});
constrainedLabels.forEach((n, k) => {
  const y = 783.3 + k * 13.57;
  swatch(553, y, 8, siteColors[k], { border: '1px solid rgba(0,0,0,0.35)' });
  addText(n, 567, y, { size: 10 });
});
addText('Percentage of deletions with DAF < 10%', 459, 948, { rot: 'center', size: 11 });
addText('Population', 633, 1097, { align: 'center', size: 11 });
</script>
</body>
</html>
